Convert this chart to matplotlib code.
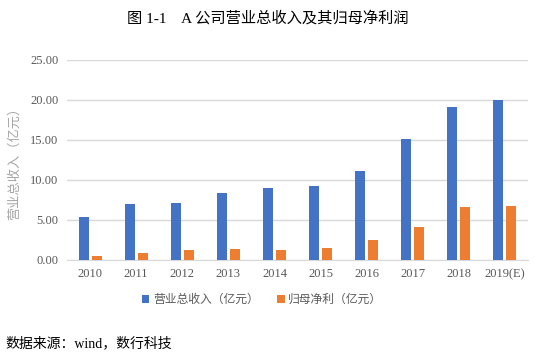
import matplotlib.pyplot as plt
import numpy as np

plt.rcParams['font.family'] = ['Liberation Serif', 'Noto Sans CJK SC', 'DejaVu Sans']

# data
years = ['2010', '2011', '2012', '2013', '2014', '2015', '2016', '2017', '2018', '2019(E)']
revenue = [5.4, 7.0, 7.1, 8.4, 9.0, 9.25, 11.1, 15.1, 19.1, 20.0]
net_profit = [0.5, 0.9, 1.25, 1.4, 1.25, 1.5, 2.5, 4.1, 6.6, 6.75]
yticks = [0, 5, 10, 15, 20, 25]

blue = '#4472C4'
orange = '#ED7D31'
grey = '#595959'

fig = plt.figure(figsize=(5.35, 3.6), dpi=100)
ax = fig.add_axes([67 / 535, 100 / 360, 461 / 535, 200 / 360])

x = np.arange(len(years))
w = 0.217
ax.bar(x - 0.141, revenue, w, color=blue, label='营业总收入（亿元）', zorder=3)
ax.bar(x + 0.141, net_profit, w, color=orange, label='归母净利（亿元）', zorder=3)

ax.set_xlim(-0.5, len(years) - 0.5)
ax.set_ylim(0, 25)
ax.set_yticks(yticks)
ax.set_yticklabels(['%.2f' % v for v in yticks])
ax.set_xticks(x)
ax.set_xticklabels(years)
ax.tick_params(length=0, labelsize=9, colors=grey, pad=6)
ax.grid(axis='y', color='#D9D9D9', lw=1, zorder=0)
for s in ['top', 'right', 'left']:
    ax.spines[s].set_visible(False)
ax.spines['bottom'].set_color('#D9D9D9')

# y axis title
fig.text(15 / 535, 1 - 160 / 360, '营业总收入（亿元）', rotation=90, ha='center', va='center',
         color='#A6A6A6', fontsize=9.5)

fig.text(0.5, 1 - 18 / 360, '图 1-1    A 公司营业总收入及其归母净利润', ha='center', va='center',
         fontsize=11, color='black')

fig.legend(loc='center', bbox_to_anchor=(0.49, 1 - 300 / 360), ncol=2, frameon=False,
           fontsize=8.5, handlelength=0.6, handleheight=0.6, handletextpad=0.3,
           columnspacing=1.6, labelcolor=grey)

fig.text(5 / 535, 1 - 343 / 360, '数据来源：wind，数行科技', ha='left', va='center', fontsize=10)

fig.savefig('out.png', dpi=100)
